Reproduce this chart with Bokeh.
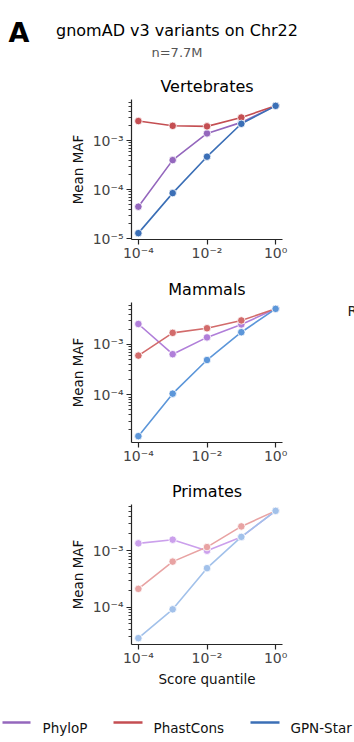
import numpy as np
from bokeh.plotting import figure
from bokeh.layouts import column, row
from bokeh.models import Range1d, FixedTicker, CustomJSTickFormatter, ColumnDataSource
from bokeh.core.properties import value
from bokeh.embed import file_html
from bokeh.resources import INLINE

# ---------------- data ----------------
quantiles = [1e-4, 1e-3, 1e-2, 1e-1, 1e0]
series = ["PhyloP", "PhastCons", "GPN-Star"]
panels = ["Vertebrates", "Mammals", "Primates"]

vert_phylop = [4.5e-5, 4.0e-4, 1.4e-3, 2.35e-3, 5.1e-3]
vert_phastcons = [2.5e-3, 2.0e-3, 1.95e-3, 2.95e-3, 5.1e-3]
vert_gpn = [1.3e-5, 8.5e-5, 4.7e-4, 2.2e-3, 5.1e-3]

mamm_phylop = [2.55e-3, 6.4e-4, 1.38e-3, 2.5e-3, 5.1e-3]
mamm_phastcons = [6.0e-4, 1.7e-3, 2.1e-3, 3.0e-3, 5.1e-3]
mamm_gpn = [1.5e-5, 1.05e-4, 4.9e-4, 1.75e-3, 5.1e-3]

prim_phylop = [1.35e-3, 1.57e-3, 1.0e-3, 1.75e-3, 5.1e-3]
prim_phastcons = [2.1e-4, 6.4e-4, 1.16e-3, 2.7e-3, 5.1e-3]
prim_gpn = [2.8e-5, 9.1e-5, 4.9e-4, 1.76e-3, 5.1e-3]

x_ticks = [1e-4, 1e-2, 1e0]

panel_data = [
    [vert_phylop, vert_phastcons, vert_gpn],
    [mamm_phylop, mamm_phastcons, mamm_gpn],
    [prim_phylop, prim_phastcons, prim_gpn],
]
panel_colors = [
    ["#9467bd", "#c44e52", "#3b6fb6"],
    ["#b07ed9", "#d26b6b", "#5c96d9"],
    ["#cba0ec", "#e8a3a3", "#a2c1ea"],
]

FONT = "DejaVu Sans"
W = 354
RW = 14  # narrow strip at the right of the middle panel (cut-off neighbour text)

sup_js = """
const e = Math.round(Math.log10(tick));
const m = {"-":"\u207b","0":"\u2070","1":"\u00b9","2":"\u00b2","3":"\u00b3","4":"\u2074","5":"\u2075","6":"\u2076","7":"\u2077","8":"\u2078","9":"\u2079"};
return "10" + String(e).split("").map(c => m[c]).join("");
"""


def blank(height, width=W, x0=0, **kw):
    f = figure(width=width, height=height, x_range=Range1d(x0, x0 + width), y_range=Range1d(height, 0),
               toolbar_location=None, output_backend="svg", min_border=0,
               x_axis_type=None, y_axis_type=None, **kw)
    f.outline_line_color = None
    f.grid.visible = False
    return f


# ---------------- header ----------------
hdr = blank(70)
hdr.text(x=[8], y=[32], text=["A"], text_font=value(FONT), text_font_size="27px",
         text_font_style="bold", text_color="black", text_baseline="alphabetic", text_align="left")
hdr.text(x=[176.5], y=[29.5], text=["gnomAD v3 variants on Chr22"], text_font=value(FONT),
         text_font_size="16px", text_color="black", text_baseline="alphabetic", text_align="center")
hdr.text(x=[176.5], y=[51.5], text=["n=7.7M"], text_font=value(FONT),
         text_font_size="13px", text_color="#555555", text_baseline="alphabetic", text_align="center")

# ---------------- panels ----------------
figs = [row(hdr, spacing=0)]
heights = [202, 202, 226]
tops = [29, 30, 30]
for i, name in enumerate(panels):
    vals = panel_data[i]
    allv = np.log10(np.concatenate([np.array(v) for v in vals]))
    lo, hi = allv.min(), allv.max()
    pad = 0.05 * (hi - lo)
    yr = Range1d(10 ** (lo - pad), 10 ** (hi + pad))
    pw = W - RW if i == 1 else W
    p = figure(width=pw, height=heights[i], x_axis_type="log", y_axis_type="log",
               x_range=Range1d(10 ** -4.2, 10 ** 0.2), y_range=yr,
               toolbar_location=None, output_backend="svg",
               min_border_left=131, min_border_right=pw - 282, min_border_top=tops[i],
               min_border_bottom=heights[i] - tops[i] - 140)
    p.outline_line_color = None
    p.grid.visible = False
    p.title.text = name
    p.title.align = "center"
    p.title.text_font = FONT
    p.title.text_font_size = "16px"
    p.title.text_font_style = "normal"
    p.title.text_color = "black"
    p.title.standoff = 7

    for j, s in enumerate(series):
        src = ColumnDataSource(dict(x=quantiles, y=vals[j]))
        p.line("x", "y", source=src, line_color=panel_colors[i][j], line_width=1.6)
        p.scatter("x", "y", source=src, size=7.5, fill_color=panel_colors[i][j],
                  line_color="white", line_width=0.8)

    decs = list(range(-7, 1))
    p.yaxis.ticker = FixedTicker(ticks=[10.0 ** d for d in decs],
                                 minor_ticks=[k * 10.0 ** d for d in decs for k in range(2, 10)])
    p.xaxis.ticker = FixedTicker(ticks=x_ticks, minor_ticks=[])
    for ax in (p.xaxis[0], p.yaxis[0]):
        ax.formatter = CustomJSTickFormatter(code=sup_js)
        ax.axis_line_color = "#262626"
        ax.axis_line_width = 1.2
        ax.major_tick_line_color = "#262626"
        ax.minor_tick_line_color = "#262626"
        ax.major_tick_line_width = 1.2
        ax.minor_tick_line_width = 0.9
        ax.major_tick_in = 0
        ax.minor_tick_in = 0
        ax.major_tick_out = 5
        ax.minor_tick_out = 3
        ax.major_label_standoff = 3
        ax.major_label_text_font = FONT
        ax.major_label_text_font_size = "14px"
        ax.major_label_text_color = "#444444"
        ax.axis_label_text_font = FONT
        ax.axis_label_text_font_size = "13.5px"
        ax.axis_label_text_font_style = "normal"
        ax.axis_label_text_color = "#111111"
        ax.axis_label_standoff = 4
    p.xaxis.major_label_standoff = 0
    p.yaxis.axis_label = "Mean MAF"
    if i == 2:
        p.xaxis.axis_label = "Score quantile"
        p.xaxis.axis_label_standoff = 2
    if i == 1:
        # strip at the right edge, same borders so its frame spans page rows 302..442
        rf = figure(width=RW, height=heights[i], x_range=Range1d(W - RW, W),
                    y_range=Range1d(442, 302), toolbar_location=None, output_backend="svg",
                    min_border_left=0, min_border_right=0, min_border_top=tops[i],
                    min_border_bottom=heights[i] - tops[i] - 140,
                    x_axis_type=None, y_axis_type=None)
        rf.outline_line_color = None
        rf.grid.visible = False
        rf.text(x=[347], y=[310], text=["R"], text_font=value(FONT), text_font_size="14px",
                text_color="#222222", text_baseline="middle", text_align="left")
        figs.append(row(p, rf, spacing=0))
    else:
        figs.append(p)

# ---------------- legend ----------------
leg = blank(42)
lx0 = [2, 113, 250]
lx1 = [30, 142, 279]
tx = [42, 153, 290]
leg_colors = panel_colors[0]
leg.segment(x0=lx0, y0=[22, 22, 22], x1=lx1, y1=[22, 22, 22], line_color=leg_colors, line_width=2.7)
leg.text(x=tx, y=[27, 27, 27], text=series, text_font=value(FONT), text_font_size="13.5px",
         text_color="#111111", text_baseline="alphabetic", text_align="left")
figs.append(row(leg, spacing=0))

layout = column(*figs, spacing=0)
open("out.html", "w").write(file_html(layout, INLINE))
